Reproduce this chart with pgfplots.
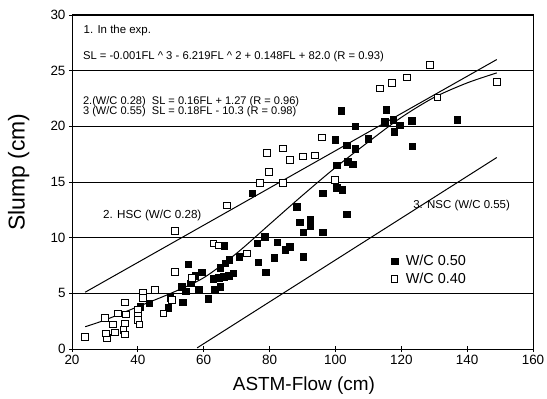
\documentclass[border=0pt]{standalone}
\usepackage{pgfplots}
\pgfplotsset{compat=1.18}
\usepackage{fontspec}
\setmainfont{Liberation Sans}
\usetikzlibrary{calc}
\begin{document}
\begin{tikzpicture}
\begin{axis}[
 width=461bp, height=334bp, scale only axis,
 xmin=20, xmax=160, ymin=0, ymax=30,
 xtick={20,40,...,160}, ytick={0,5,...,30},
 ymajorgrids, grid style={black, line width=0.6bp},
 tick align=center, xtick pos=bottom, ytick pos=left,
 major tick length=6bp,
 tick style={black, line width=0.8bp},
 axis line style={line width=1bp},
 /pgf/number format/assume math mode=true,
 ticklabel style={font=\fontsize{13.5}{15}\selectfont},
 xlabel={ASTM-Flow (cm)}, ylabel={Slump (cm)},
 xlabel style={font=\fontsize{19}{21}\selectfont, at={(axis description cs:0.503,-0.123)}, anchor=base},
 ylabel style={font=\fontsize{23}{25}\selectfont, at={(axis description cs:-0.103,0.53)}, anchor=base, rotate=0},
 legend style={at={(axis description cs:0.692,0.287)}, anchor=north west, draw=none, fill=none,
   font=\fontsize{14.5}{16}\selectfont, row sep=1.5bp, inner sep=0pt},
 legend cell align=left,
]
% HSC line
\addplot[black, line width=1bp, forget plot] coordinates {(24,5.1) (149,26.0)};
% NSC line
\addplot[black, line width=1bp, forget plot] coordinates {(58,0.1) (149,17.2)};
% fitted curve
\addplot[black, line width=1bp, smooth, forget plot] coordinates {
(24,2.0) (30,2.6) (40,3.8) (50,5.0) (60,6.4) (70,8.6) (80,11.2) (90,13.8) (100,16.3) (110,18.6) (120,20.8) (130,22.6) (140,23.9) (149,24.8)};
% W/C 0.50 (filled)
\addplot[only marks, mark=square*, mark size=3.3bp, black] coordinates {
(40.7,3.8) (43.4,4.1) (49.2,3.7) (49.8,4.6) (53.4,5.6) (53.7,4.2) (54.5,5.2) (55.3,7.6)
(56,5.9) (57.4,6.6) (58.5,5.3) (59.4,6.9) (61.4,4.5) (63.4,5.3) (65,5.6) (62.9,6.3)
(64.5,6.4) (66,6.5) (67.5,6.6) (69,6.8) (65,7.3) (66.5,7.7) (67.7,8.0) (70.8,8.3)
(66.2,9.3) (74.7,14.0) (76.2,9.5) (76.6,7.8) (78.6,10.1) (78.9,6.9) (81.4,8.2) (82.3,9.6)
(84.7,8.9) (86.2,9.2) (88.3,12.8) (89.2,11.4) (90.2,10.5) (90.2,8.3) (92.3,11.6) (92.3,11.1)
(96.2,10.5) (96.2,14.0) (99.9,18.8) (100.4,14.5) (100.4,16.5) (101.7,21.4) (102,14.3) (103.5,12.1)
(103.5,18.3) (103.8,16.8) (105.3,16.6) (106,20.0) (106,18.0) (109.9,18.9) (115,20.4) (115.4,21.5)
(117.5,20.6) (117.8,19.5) (119.6,20.1) (123.2,20.5) (123.3,18.2) (137,20.6)};
\addlegendentry{\hspace{6bp}W/C 0.50}
% W/C 0.40 (open)
\addplot[only marks, mark=square*, mark size=3.3bp, mark options={fill=white, draw=black, line width=0.8bp}] coordinates {
(24,1.1) (30.6,1.0) (30.3,1.4) (30,2.8) (32.5,2.2) (33,1.5) (34,3.2) (35.6,1.7)
(36.1,1.3) (36.1,2.3) (36.4,3.1) (36.1,4.2) (40,3.5) (40,3.0) (40,2.6) (40.5,2.2)
(41.6,5.1) (41.6,4.6) (45.2,5.3) (47.7,3.2) (50.4,4.4) (51.3,6.9) (51.3,10.6) (56.4,6.4)
(62.9,9.5) (64.4,9.3) (67.1,12.9) (73.1,8.6) (77.1,14.9) (79.8,15.9) (79.2,17.6) (84,14.9)
(84.1,18.0) (86.2,17.0) (90.2,17.3) (93.8,17.4) (95.9,19.0) (99.9,15.2) (113.5,23.4) (117.2,23.9)
(121.7,24.4) (128.7,25.5) (131,22.6) (149,24.0)};
\addlegendentry{\hspace{6bp}W/C 0.40}
% annotations
\node[anchor=west, inner sep=0pt, font=\fontsize{11.5}{13}\selectfont] at (axis cs:23.5,28.6) {1. In the exp.};
\node[anchor=west, inner sep=0pt, font=\fontsize{11.3}{13}\selectfont] at (axis cs:23.3,26.3) {SL = -0.001FL \textasciicircum\ 3 - 6.219FL \textasciicircum\ 2 + 0.148FL + 82.0 (R = 0.93)};
\node[anchor=west, inner sep=0pt, font=\fontsize{11.1}{13}\selectfont] at (axis cs:23.3,22.2) {2.(W/C 0.28)\ \ SL = 0.16FL + 1.27 (R = 0.96)};
\node[anchor=west, inner sep=0pt, font=\fontsize{11.1}{13}\selectfont] at (axis cs:23.3,21.3) {3 (W/C 0.55)\ \ SL = 0.18FL - 10.3 (R = 0.98)};
\node[anchor=west, inner sep=0pt, font=\fontsize{11.7}{13}\selectfont] at (axis cs:29.4,11.95) {2. HSC (W/C 0.28)};
\node[anchor=west, inner sep=0pt, font=\fontsize{11.5}{13}\selectfont] at (axis cs:123.6,12.85) {3. NSC (W/C 0.55)};
\end{axis}
\pgfresetboundingbox
\path[use as bounding box] ($(current axis.south west)+(-72bp,-50bp)$) rectangle ($(current axis.north east)+(14bp,15bp)$);
\end{tikzpicture}
\end{document}
